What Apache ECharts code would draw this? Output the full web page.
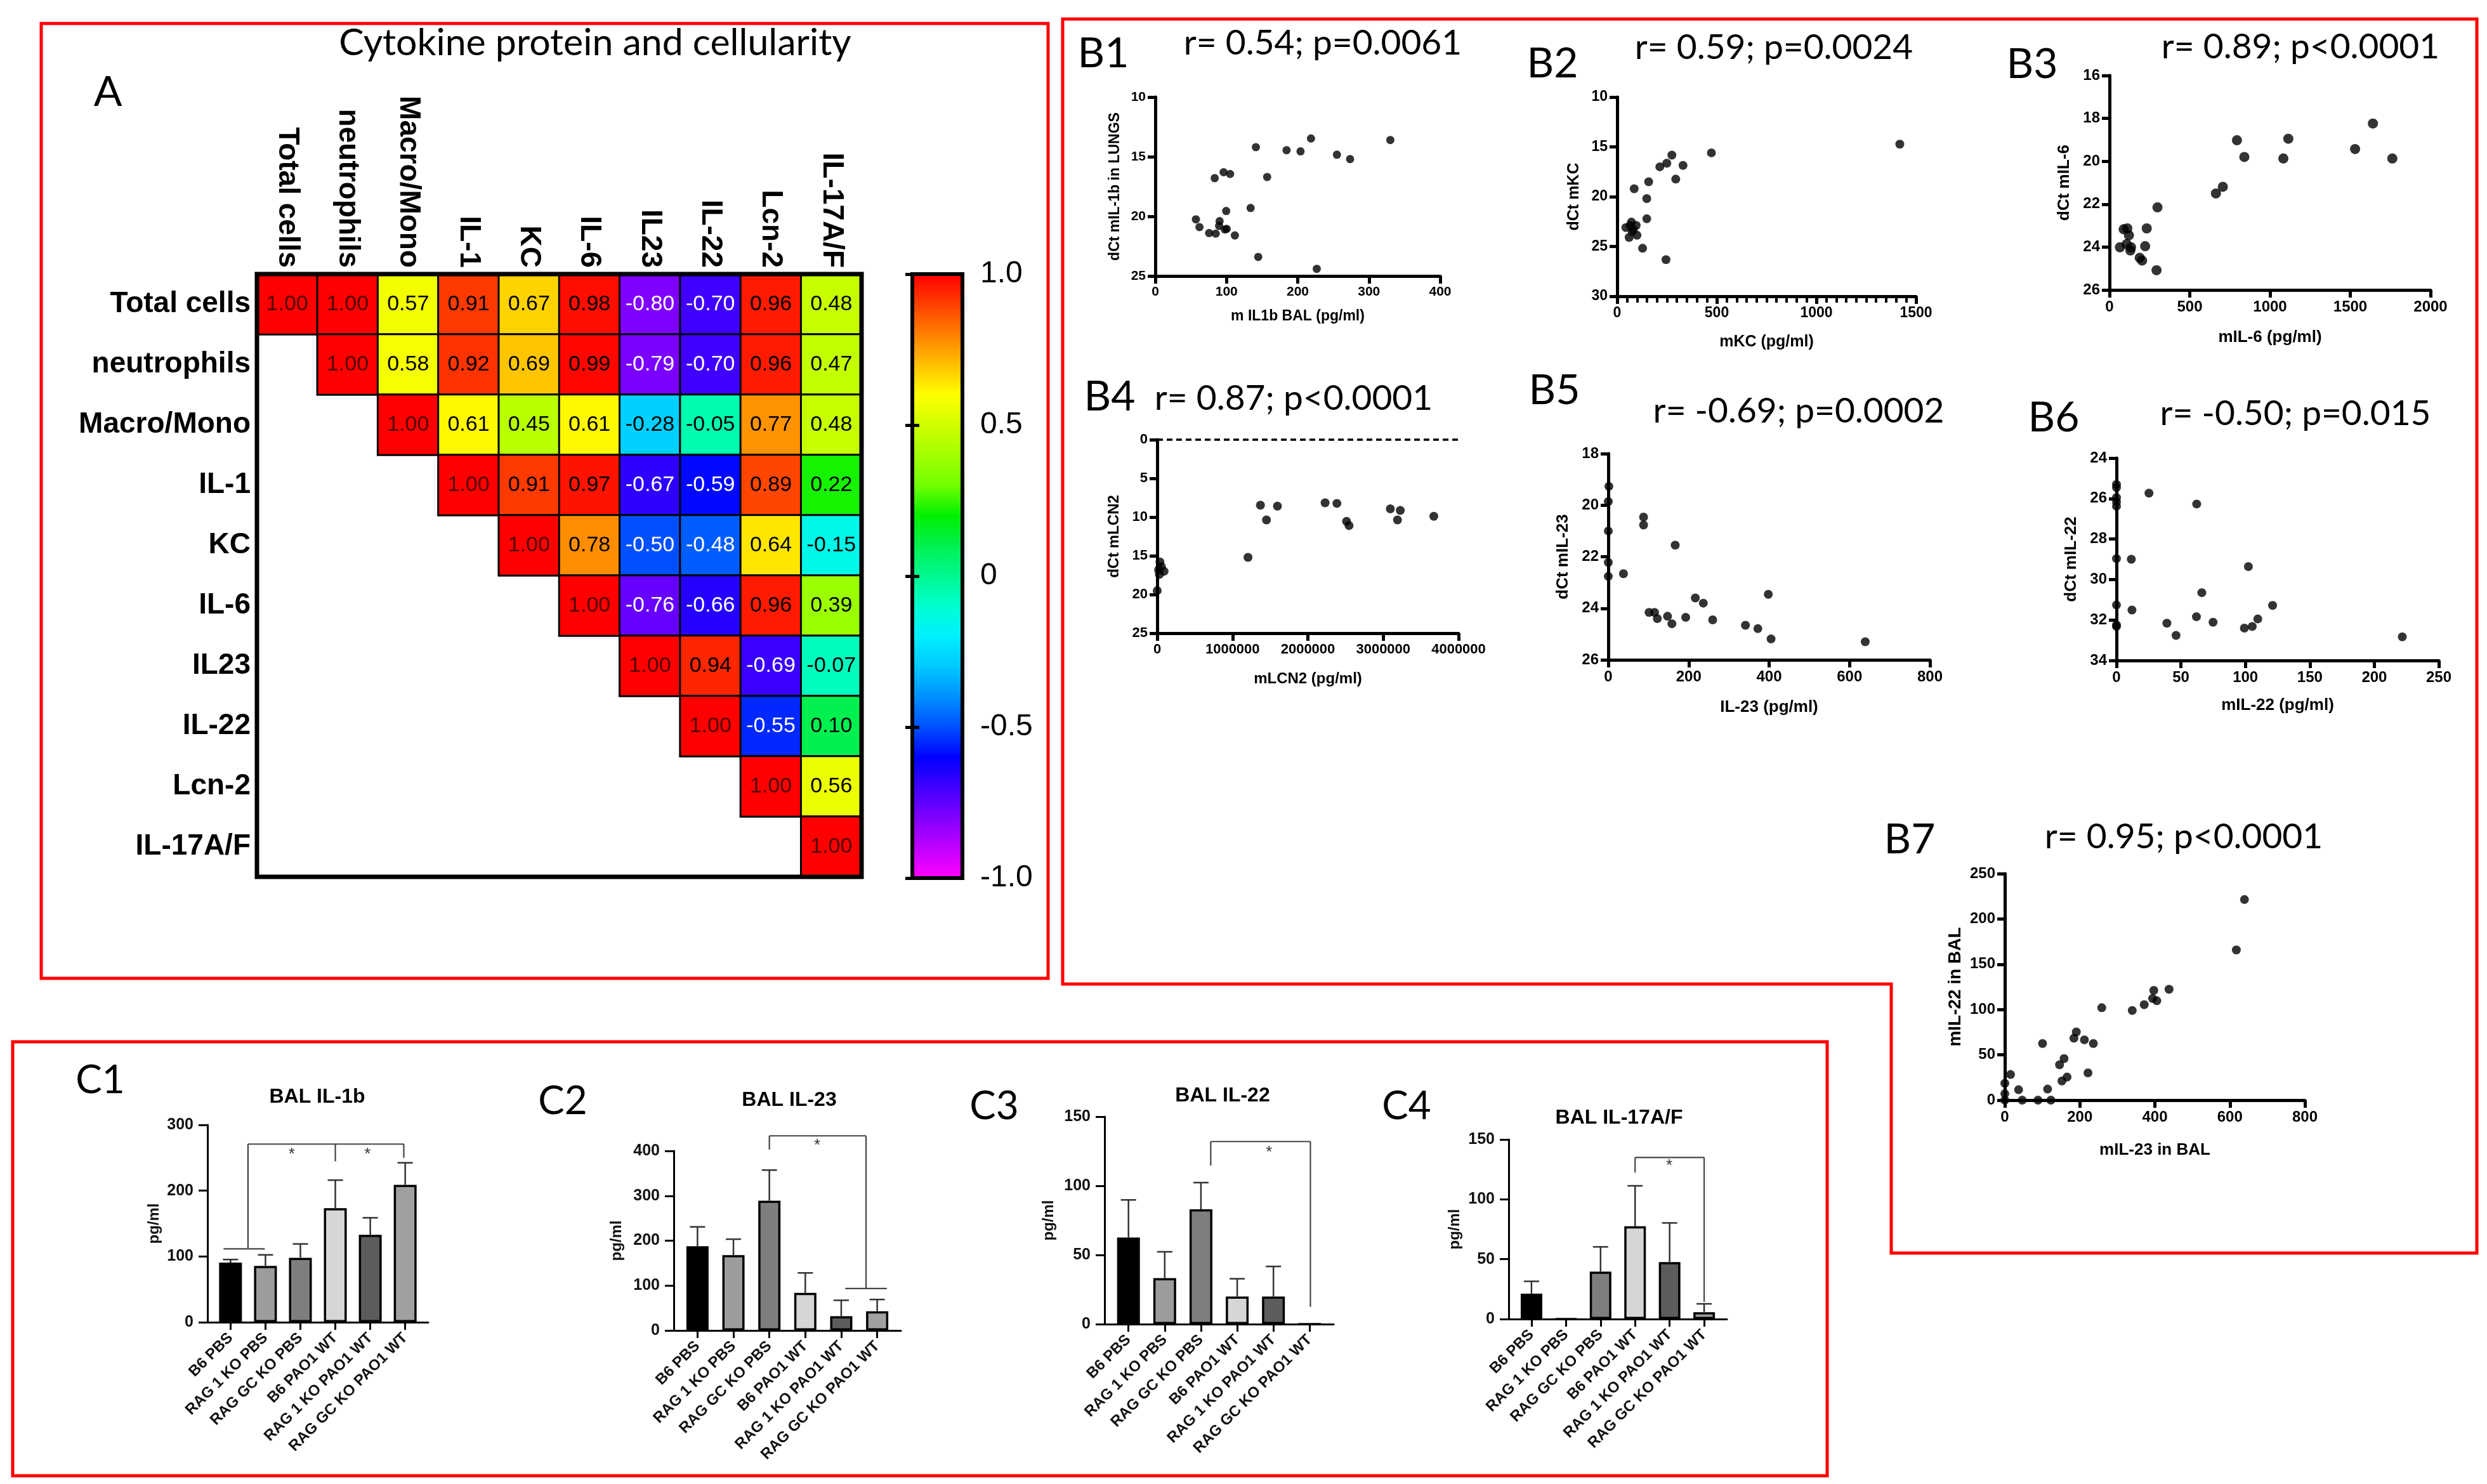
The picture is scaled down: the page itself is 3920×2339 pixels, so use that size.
<!DOCTYPE html>
<html><head><meta charset="utf-8">
<script src="https://cdn.jsdelivr.net/npm/echarts@6.0.0/dist/echarts.min.js"></script>
<style>html,body{margin:0;padding:0;background:#fff;}#c{width:3920px;height:2339px;}</style>
</head><body><div id="c"></div>
<script>
// ================= DATA =================
// Panel A: correlation matrix (upper triangle)
const hmLabels = ['Total cells','neutrophils','Macro/Mono','IL-1','KC','IL-6','IL23','IL-22','Lcn-2','IL-17A/F'];
const hmValues = [
 [1.00,1.00,0.57,0.91,0.67,0.98,-0.80,-0.70,0.96,0.48],
 [null,1.00,0.58,0.92,0.69,0.99,-0.79,-0.70,0.96,0.47],
 [null,null,1.00,0.61,0.45,0.61,-0.28,-0.05,0.77,0.48],
 [null,null,null,1.00,0.91,0.97,-0.67,-0.59,0.89,0.22],
 [null,null,null,null,1.00,0.78,-0.50,-0.48,0.64,-0.15],
 [null,null,null,null,null,1.00,-0.76,-0.66,0.96,0.39],
 [null,null,null,null,null,null,1.00,0.94,-0.69,-0.07],
 [null,null,null,null,null,null,null,1.00,-0.55,0.10],
 [null,null,null,null,null,null,null,null,1.00,0.56],
 [null,null,null,null,null,null,null,null,null,1.00]
];
const hmColors = ['#ff00ff','#c000ff','#8000ff','#4000ff','#0000ff','#0050ff','#0090ff','#00c8ff','#00f0ff','#00ffd0','#00f890','#00f050','#00f000','#70ff00','#a0ff00','#d0ff00','#ffff00','#ffc000','#ff8000','#ff4000','#ff0000'];

// Panels B: scatter [x, y]
const b1Data = [[57,20.25],[62,20.9],[75.6,21.4],[84.8,21.45],[90.3,20.4],[89.6,20.8],[97.7,21.1],[100.3,21.05],[99.5,19.55],[111.7,21.6],[133.8,19.3],[83.4,16.8],[95.9,16.3],[105,16.45],[141.2,14.2],[157,16.7],[144.5,23.4],[184.3,14.45],[203.9,14.55],[218.6,13.47],[226.7,24.4],[255,14.83],[273.5,15.2],[330,13.6]];
const b2Data = [[1418.7,14.73],[473,15.6],[274.5,15.83],[249,16.64],[214,17.0],[330.5,16.86],[294,18.24],[158,18.5],[85.4,19.2],[148.5,20.19],[148.5,22.22],[43.4,23.1],[71.4,22.55],[95.2,22.88],[81.2,23.32],[60,24.09],[99.4,23.87],[127.5,25.18],[245,26.32],[75,23.5],[65,22.9]];
const b3Data = [[1641,18.24],[1114,18.95],[794,19.02],[1530,19.43],[840,19.8],[1083,19.87],[1762,19.87],[706,21.19],[663,21.5],[299,22.15],[232,23.13],[88,23.17],[111,23.13],[121,23.45],[65,24.01],[107,23.86],[130,24.16],[134,24.01],[222,23.96],[188,24.5],[203,24.63],[293,25.08]];
const b4Data = [[1205000,15.2],[1370000,8.46],[1450000,10.37],[1596000,8.59],[2228000,8.15],[2385000,8.23],[2513000,10.55],[2546000,11.1],[3094000,8.93],[3226000,9.14],[3189000,10.37],[3671000,9.9],[0,19.5],[36500,15.8],[18000,16.8],[91000,17.0],[29000,17.4],[55000,16.4]];
const b5Data = [[1.4,19.27],[0,19.86],[0,21.0],[0,22.22],[0,22.76],[37.7,22.66],[87.7,20.46],[87.7,20.77],[166.4,21.55],[101.4,24.16],[115,24.16],[121.9,24.4],[147.3,24.31],[158.2,24.6],[192.5,24.35],[216.4,23.6],[236.3,23.8],[259.6,24.45],[397.9,23.46],[341.1,24.66],[371.9,24.79],[404.8,25.19],[639,25.3]];
const b6Data = [[0,25.3],[0,25.46],[0,25.95],[0,26.16],[0,26.38],[25.2,25.73],[62.2,26.27],[0,28.97],[11.5,29.0],[102.3,29.36],[66.2,30.65],[0,31.26],[12,31.51],[121.1,31.28],[62,31.84],[109.6,31.95],[39.1,32.16],[74.9,32.11],[99.2,32.4],[105.3,32.32],[0,32.24],[0,32.32],[46.2,32.76],[221.7,32.83]];
const b7Data = [[638.8,221.4],[617.2,165.8],[437.8,122.4],[397.1,121.2],[393.9,112.2],[405.1,109.7],[371.6,105.4],[339.7,99],[258.4,102],[190.6,75.3],[184.2,68.4],[212.1,66.6],[236,62.5],[100.5,62.5],[157.9,45.9],[145.9,39],[221.7,30.1],[165.9,25.5],[152.3,21.2],[114,12.2],[15.2,28.3],[0,18.6],[0,7.1],[0,0],[36.7,11.5],[46.3,0],[88.5,0],[122.8,0]];
const bTitles = ['r= 0.54; p=0.0061','r= 0.59; p=0.0024','r= 0.89; p<0.0001','r= 0.87; p<0.0001','r= -0.69; p=0.0002','r= -0.50; p=0.015','r= 0.95; p<0.0001'];

// Panels C: bar means and SEM
const cGroups = ['B6 PBS','RAG 1 KO PBS','RAG GC KO PBS','B6 PAO1 WT','RAG 1 KO PAO1 WT','RAG GC KO PAO1 WT'];
const c1Mean = [90.7,85.7,97.8,173.4,132.9,208.9];
const c1Err  = [4.6,16.7,21.2,42.6,25.9,33.5];
const c2Mean = [187.5,168,288.9,83.7,31.8,42.7];
const c2Err  = [43.3,35.4,68.4,44.5,35.4,26.3];
const c3Mean = [62.6,33.2,83.0,19.9,19.9,0];
const c3Err  = [27.2,19.1,19.3,12.9,21.8,0];
const c4Mean = [21.2,0,39.6,77.5,47.6,5.75];
const c4Err  = [10.3,0,20.7,33.8,32.7,6.95];
// significance brackets: [x1,y1,x2,y2] in (group index, pg/ml)
const c1Brackets = [[-0.2,111.6,0.98,111.6],[0.5,111.6,0.5,270.8],[0.5,270.8,4.96,270.8],[3,270.8,3,244.5],[4.96,270.8,4.96,250]];
const c1Stars = [[1.75,255],[3.92,255]];
const c2Brackets = [[2.0,403,2.0,433.6],[2.0,433.6,4.69,433.6],[4.69,433.6,4.69,93.4],[4.11,93.4,5.27,93.4]];
const c2Stars = [[3.33,412]];
const c3Brackets = [[2.27,114.6,2.27,132],[2.27,132,5.02,132],[5.02,132,5.02,12.5]];
const c3Stars = [[3.88,124]];
const c4Brackets = [[3.0,122.4,3.0,135],[3.0,135,5.0,135],[5.0,135,5.0,14.3]];
const c4Stars = [[3.99,128]];
const barGrays = ['#000000','#9c9c9e','#7e7e80','#d5d6d8','#5c5c5e','#a0a0a3'];

// ================= BUILD =================
const SANS = "'Liberation Sans', Arial, Helvetica, sans-serif";
const CAL = "Lato, 'Open Sans', sans-serif";
const grids = [], xAxes = [], yAxes = [], series = [];
function addGrid(g){ grids.push(Object.assign({outerBoundsMode:'none', containLabel:false}, g)); return grids.length-1; }

// ---- Heatmap ----
const hmData = [];
hmValues.forEach((row, r) => row.forEach((v, c) => {
  if (v === null) return;
  const col = v <= -0.45 ? '#ffffff' : (v >= 0.995 ? '#500000' : '#000000');
  hmData.push({value:[c, r, v], label:{color: col}});
}));
const gHm = addGrid({left:405, top:432, width:953, height:950, show:true, borderColor:'#000', borderWidth:7, z:10});
xAxes.push({gridIndex:gHm, type:'category', data:hmLabels, position:'top', axisLine:{show:false}, axisTick:{show:false}, splitLine:{show:false},
  axisLabel:{interval:0, rotate:90, fontSize:46, fontWeight:'bold', color:'#000', fontFamily:SANS, margin:10}});
yAxes.push({gridIndex:gHm, type:'category', data:hmLabels, inverse:true, axisLine:{show:false}, axisTick:{show:false}, splitLine:{show:false},
  axisLabel:{interval:0, fontSize:46, fontWeight:'bold', color:'#000', fontFamily:SANS, margin:10}});
series.push({type:'heatmap', xAxisIndex:0, yAxisIndex:0, data:hmData, emphasis:{disabled:true},
  itemStyle:{borderColor:'#000', borderWidth:3},
  label:{show:true, fontSize:34, fontFamily:SANS, formatter: p => p.value[2].toFixed(2)}});

// ---- Colorbar axes ----
const gCb = addGrid({left:1438, top:432, width:79, height:952, show:true, borderColor:'#000', borderWidth:6, z:10});
xAxes.push({gridIndex:gCb, type:'value', min:0, max:1, show:false});
const cbTick = {show:true, inside:true, length:11, lineStyle:{color:'#000', width:5}};
yAxes.push({gridIndex:gCb, type:'value', min:-1, max:1, interval:0.5, position:'right', z:10,
  axisLine:{show:false}, axisTick:cbTick, splitLine:{show:false},
  axisLabel:{fontSize:48, color:'#000', fontFamily:SANS, margin:28, formatter: v => v === 0 ? '0' : v.toFixed(1)}});
yAxes.push({gridIndex:gCb, type:'value', min:-1, max:1, interval:0.5, position:'left', z:10,
  axisLine:{show:false}, axisTick:cbTick, splitLine:{show:false}, axisLabel:{show:false}});
series.push({type:'scatter', xAxisIndex:xAxes.length-1, yAxisIndex:yAxes.length-2, data:[], silent:true});

// ---- B scatter panels ----
function bPanel(c){
  const gi = addGrid({left:c.l, top:c.t, width:c.w, height:c.h});
  const lineS = {color:'#000', width:5};
  const common = {splitLine:{show:false}, axisLine:{show:true, onZero:false, lineStyle:lineS},
    axisTick:{show:true, length:12, lineStyle:lineS}};
  const lab = {color:'#000', fontWeight:'bold', fontSize:c.tf, fontFamily:SANS, margin:15, formatter: v => String(v)};
  const nts = {color:'#000', fontWeight:'bold', fontSize:c.nf, fontFamily:SANS};
  xAxes.push(Object.assign({gridIndex:gi, type:'value', min:c.xr[0], max:c.xr[1], interval:c.xr[2],
    axisLabel:lab, name:c.xn, nameLocation:'middle', nameGap:c.xg, nameTextStyle:nts,
    minorTick: c.minor ? {show:true, splitNumber:10, length:10, lineStyle:{color:'#000', width:4}} : {show:false}}, common));
  yAxes.push(Object.assign({gridIndex:gi, type:'value', min:c.yr[0], max:c.yr[1], interval:c.yr[2], inverse:c.inv,
    axisLabel:lab, name:c.yn, nameLocation:'middle', nameGap:c.yg, nameTextStyle:Object.assign({}, nts, {fontSize:c.ynf || c.nf})}, common));
  const s = {type:'scatter', xAxisIndex:xAxes.length-1, yAxisIndex:yAxes.length-1, data:c.data, symbolSize:c.ss || 14,
    itemStyle:{color:'#000'}, clip:false, silent:true};
  if (c.dash) s.markLine = {silent:true, symbol:'none', label:{show:false}, lineStyle:{type:[9,6], width:3.5, color:'#000'}, data:[{yAxis:0}]};
  series.push(s);
}
bPanel({l:1821,t:153,w:449,h:282, xr:[0,400,100], yr:[10,25,5], inv:true, data:b1Data, xn:'m IL1b BAL (pg/ml)', yn:'dCt mIL-1b in LUNGS', tf:21, nf:23, xg:52, yg:52, ss:13});
bPanel({l:2549,t:153,w:471,h:314, xr:[0,1500,500], yr:[10,30,5], inv:true, data:b2Data, xn:'mKC (pg/ml)', yn:'dCt mKC', tf:23, nf:25, xg:60, yg:55, minor:true});
bPanel({l:3325,t:119,w:506,h:338, xr:[0,2000,500], yr:[16,26,2], inv:true, data:b3Data, xn:'mIL-6 (pg/ml)', yn:'dCt mIL-6', tf:24, nf:26, xg:62, yg:58, ss:16});
bPanel({l:1824,t:693,w:475,h:305, xr:[0,4000000,1000000], yr:[0,25,5], inv:true, data:b4Data, xn:'mLCN2 (pg/ml)', yn:'dCt mLCN2', tf:22, nf:24, xg:60, yg:56, dash:true});
bPanel({l:2535,t:715,w:507,h:325, xr:[0,800,200], yr:[18,26,2], inv:true, data:b5Data, xn:'IL-23 (pg/ml)', yn:'dCt mIL-23', tf:24, nf:26, xg:62, yg:58});
bPanel({l:3336,t:722,w:508,h:319, xr:[0,250,50], yr:[24,34,2], inv:true, data:b6Data, xn:'mIL-22 (pg/ml)', yn:'dCt mIL-22', tf:24, nf:26, xg:58, yg:58});
bPanel({l:3160,t:1377,w:473,h:357, xr:[0,800,200], yr:[0,250,50], inv:false, data:b7Data, xn:'mIL-23 in BAL', yn:'mIL-22 in BAL', tf:24, nf:26, ynf:28, xg:66, yg:64});

// ---- C bar panels ----
function cPanel(c){
  const gi = addGrid({left:c.l, top:c.t, width:c.w, height:c.h});
  const lineS = {color:'#000', width:3};
  const idx = [0,1,2,3,4,5];
  xAxes.push({gridIndex:gi, type:'value', min:-0.66, max:5.66, splitLine:{show:false},
    axisLine:{show:true, onZero:false, lineStyle:lineS},
    axisTick:{show:true, customValues:idx, length:12, lineStyle:lineS},
    axisLabel:{customValues:idx, rotate:45, formatter: v => cGroups[Math.round(v)], fontSize:24, fontWeight:'bold', color:'#111', fontFamily:SANS, margin:21}});
  yAxes.push({gridIndex:gi, type:'value', min:0, max:c.max, interval:c.iv, splitLine:{show:false},
    axisLine:{show:true, onZero:false, lineStyle:lineS}, axisTick:{show:true, length:14, lineStyle:lineS},
    axisLabel:{fontSize:25, fontWeight:'bold', color:'#111', fontFamily:SANS, margin:22},
    name:'pg/ml', nameLocation:'middle', nameGap:c.ng, nameTextStyle:{fontSize:24, fontWeight:'bold', color:'#111', fontFamily:SANS}});
  const xi = xAxes.length-1, yi = yAxes.length-1;
  series.push({type:'bar', xAxisIndex:xi, yAxisIndex:yi, barWidth:c.bw, silent:true,
    data:c.mean.map((m,i) => ({value:[i, m], itemStyle:{color:barGrays[i]}})),
    itemStyle:{borderColor:'#000', borderWidth:3.5}});
  series.push({type:'custom', xAxisIndex:xi, yAxisIndex:yi, silent:true, z:5,
    data:c.mean.map((m,i) => [i, m, c.err[i]]), encode:{x:0, y:1},
    renderItem:(p, api) => {
      const e = api.value(2); if (!e) return null;
      const a = api.coord([api.value(0), api.value(1)]);
      const b = api.coord([api.value(0), api.value(1) + e]);
      const st = {stroke:'#333', lineWidth:2.5};
      return {type:'group', children:[
        {type:'line', shape:{x1:a[0], y1:a[1], x2:b[0], y2:b[1]}, style:st},
        {type:'line', shape:{x1:b[0]-12, y1:b[1], x2:b[0]+12, y2:b[1]}, style:st}]};
    }});
  series.push({type:'custom', xAxisIndex:xi, yAxisIndex:yi, silent:true, clip:false,
    data:c.br, encode:{x:[0,2], y:[1,3]},
    renderItem:(p, api) => {
      const a = api.coord([api.value(0), api.value(1)]);
      const b = api.coord([api.value(2), api.value(3)]);
      return {type:'line', shape:{x1:a[0], y1:a[1], x2:b[0], y2:b[1]}, style:{stroke:'#444', lineWidth:2.2}};
    }});
  series.push({type:'custom', xAxisIndex:xi, yAxisIndex:yi, silent:true, clip:false,
    data:c.stars, encode:{x:0, y:1},
    renderItem:(p, api) => {
      const a = api.coord([api.value(0), api.value(1)]);
      return {type:'text', x:a[0], y:a[1], style:{text:'*', fontSize:26, fill:'#333', fontFamily:SANS,
        align:'center', verticalAlign:'middle', textAlign:'center', textVerticalAlign:'middle'}};
    }});
}
cPanel({l:327, t:1773, w:348, h:311, max:300, iv:100, mean:c1Mean, err:c1Err, br:c1Brackets, stars:c1Stars, bw:36, ng:72});
cPanel({l:1062, t:1814, w:358, h:283, max:400, iv:100, mean:c2Mean, err:c2Err, br:c2Brackets, stars:c2Stars, bw:35, ng:78});
cPanel({l:1741, t:1760, w:361, h:327, max:150, iv:50, mean:c3Mean, err:c3Err, br:c3Brackets, stars:c3Stars, bw:36, ng:76});
cPanel({l:2378, t:1796, w:344, h:283, max:150, iv:50, mean:c4Mean, err:c4Err, br:c4Brackets, stars:c4Stars, bw:34, ng:73});

// ---- graphic: panel frames and texts ----
function txt(t, x, y, size, family, weight){
  return {type:'text', x:x, y:y, z:20, style:{text:t, fontSize:size, fontFamily:family, fontWeight:weight || 'normal', fill:'#000',
    align:'center', verticalAlign:'middle', textAlign:'center', textVerticalAlign:'middle'}};
}
const frame = {fill:'none', stroke:'#ff0000', lineWidth:5};
const graphics = [
  {type:'rect', shape:{x:65, y:37, width:1587, height:1505}, style:frame},
  {type:'polygon', shape:{points:[[1675,30],[3904,30],[3904,1975],[2981,1975],[2981,1551],[1675,1551]]}, style:frame},
  {type:'rect', shape:{x:20, y:1642, width:2860, height:684}, style:frame},
  txt('Cytokine protein and cellularity', 938, 68, 59, CAL),
  txt('A', 170, 146, 66, CAL),
  txt('B1', 1739, 85, 66, CAL), txt(bTitles[0], 2085, 68, 55, CAL),
  txt('B2', 2447, 101, 66, CAL), txt(bTitles[1], 2796, 75, 55, CAL),
  txt('B3', 3203, 102, 66, CAL), txt(bTitles[2], 3626, 74, 55, CAL),
  txt('B4', 1749, 626, 66, CAL), txt(bTitles[3], 2039, 628, 55, CAL),
  txt('B5', 2450, 616, 66, CAL), txt(bTitles[4], 2835, 648, 55, CAL),
  txt('B6', 3237, 659, 66, CAL), txt(bTitles[5], 3618, 652, 55, CAL),
  txt('B7', 3010, 1324, 66, CAL), txt(bTitles[6], 3442, 1319, 55, CAL),
  txt('C1', 158, 1703, 62, CAL), txt('BAL IL-1b', 500, 1729, 32, SANS, 'bold'),
  txt('C2', 887, 1736, 62, CAL), txt('BAL IL-23', 1244, 1734, 32, SANS, 'bold'),
  txt('C3', 1567, 1744, 62, CAL), txt('BAL IL-22', 1927, 1727, 32, SANS, 'bold'),
  txt('C4', 2217, 1744, 62, CAL), txt('BAL IL-17A/F', 2552, 1762, 32, SANS, 'bold')
];

const chart = echarts.init(document.getElementById('c'), null, {renderer:'canvas', width:3920, height:2339});
chart.setOption({
  animation:false,
  backgroundColor:'#ffffff',
  grid:grids, xAxis:xAxes, yAxis:yAxes, series:series,
  visualMap:[{type:'continuous', seriesIndex:0, min:-1, max:1, left:1438, top:432, itemWidth:79, itemHeight:952,
    padding:0, calculable:false, hoverLink:false, text:null, inRange:{color:hmColors}}],
  graphic:graphics
});
</script>
</body></html>
